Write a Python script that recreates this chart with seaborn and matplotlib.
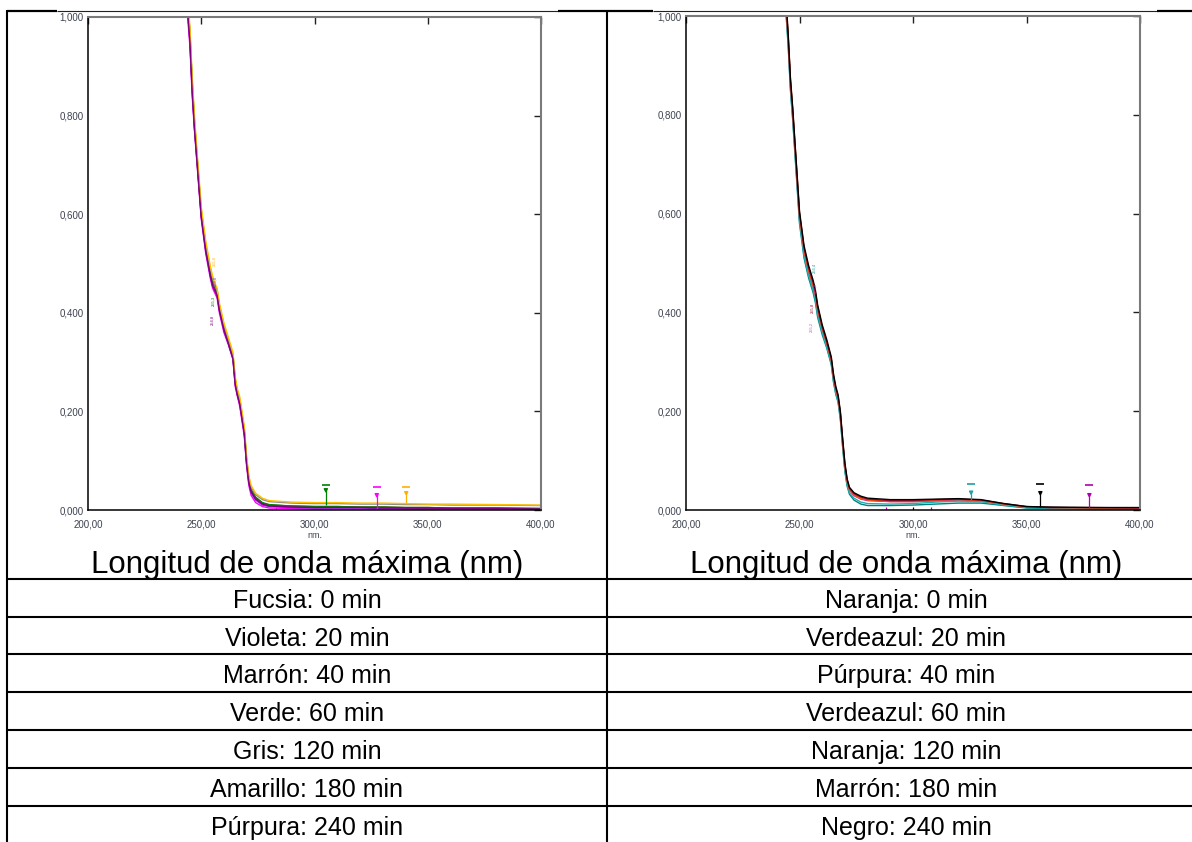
import matplotlib
matplotlib.use("Agg")
import matplotlib.pyplot as plt
from matplotlib.lines import Line2D
from matplotlib.ticker import FuncFormatter, FixedLocator
import pandas as pd
import seaborn as sns

sns.set_style("white")
plt.rcParams["font.family"] = ["Liberation Sans", "DejaVu Sans"]
plt.rcParams["text.color"] = "black"

# ---------------------------------------------------------------- data
wavelength = [244, 245, 246, 247, 248, 250, 252, 254, 255, 256, 257, 258,
              260, 262, 264, 265, 266, 267, 268, 269, 270, 271, 272, 274,
              277, 280, 290, 300, 310, 320, 330, 340, 350, 360, 380, 400]

# first sample set (left spectrum)
fucsia_0 = [1.00, 0.94, 0.84, 0.77, 0.71, 0.59, 0.52, 0.47, 0.45, 0.44, 0.43, 0.40,
            0.36, 0.335, 0.305, 0.25, 0.23, 0.21, 0.18, 0.15, 0.09, 0.05, 0.030, 0.015,
            0.007, 0.004, 0.003, 0.002, 0.002, 0.002, 0.002, 0.002, 0.001, 0.001, 0.001, 0.001]
violeta_20 = [1.01, 0.95, 0.85, 0.775, 0.715, 0.595, 0.525, 0.475, 0.455, 0.445, 0.435, 0.405,
              0.365, 0.337, 0.307, 0.255, 0.232, 0.215, 0.185, 0.155, 0.095, 0.055, 0.035, 0.020,
              0.010, 0.007, 0.005, 0.004, 0.004, 0.004, 0.003, 0.003, 0.003, 0.003, 0.002, 0.002]
marron_40 = [1.02, 0.96, 0.86, 0.78, 0.72, 0.60, 0.53, 0.48, 0.46, 0.45, 0.44, 0.41,
             0.37, 0.34, 0.31, 0.26, 0.235, 0.22, 0.19, 0.16, 0.10, 0.06, 0.040, 0.025,
             0.014, 0.010, 0.008, 0.007, 0.007, 0.006, 0.006, 0.005, 0.005, 0.004, 0.004, 0.003]
verde_60 = [1.03, 0.97, 0.87, 0.79, 0.725, 0.605, 0.535, 0.485, 0.465, 0.455, 0.445, 0.415,
            0.375, 0.343, 0.313, 0.265, 0.238, 0.222, 0.193, 0.163, 0.103, 0.062, 0.042, 0.026,
            0.015, 0.011, 0.008, 0.007, 0.007, 0.006, 0.006, 0.005, 0.005, 0.004, 0.004, 0.003]
gris_120 = [1.03, 0.97, 0.87, 0.79, 0.73, 0.61, 0.54, 0.49, 0.47, 0.455, 0.445, 0.415,
            0.375, 0.345, 0.315, 0.265, 0.240, 0.225, 0.195, 0.165, 0.105, 0.066, 0.046, 0.031,
            0.021, 0.017, 0.014, 0.013, 0.013, 0.012, 0.012, 0.011, 0.011, 0.010, 0.010, 0.009]
amarillo_180 = [1.04, 0.98, 0.88, 0.80, 0.735, 0.615, 0.545, 0.495, 0.475, 0.46, 0.45, 0.42,
                0.38, 0.35, 0.32, 0.27, 0.245, 0.23, 0.20, 0.17, 0.11, 0.07, 0.050, 0.034,
                0.024, 0.019, 0.016, 0.015, 0.015, 0.014, 0.014, 0.013, 0.012, 0.012, 0.011, 0.010]
purpura_240 = [1.01, 0.95, 0.85, 0.775, 0.715, 0.595, 0.525, 0.475, 0.455, 0.445, 0.435, 0.405,
               0.365, 0.337, 0.307, 0.255, 0.232, 0.215, 0.185, 0.155, 0.095, 0.056, 0.037, 0.022,
               0.012, 0.008, 0.006, 0.005, 0.005, 0.005, 0.004, 0.004, 0.004, 0.003, 0.003, 0.002]

# second sample set (right spectrum)
naranja_0 = [1.03, 0.96, 0.87, 0.81, 0.74, 0.60, 0.53, 0.49, 0.475, 0.46, 0.44, 0.41,
             0.37, 0.34, 0.305, 0.27, 0.245, 0.228, 0.195, 0.14, 0.09, 0.058, 0.042, 0.031,
             0.024, 0.020, 0.017, 0.017, 0.018, 0.019, 0.018, 0.012, 0.006, 0.004, 0.004, 0.003]
verdeazul_20 = [1.01, 0.94, 0.85, 0.79, 0.72, 0.58, 0.51, 0.47, 0.455, 0.44, 0.42, 0.39,
                0.355, 0.328, 0.294, 0.258, 0.234, 0.218, 0.183, 0.128, 0.078, 0.048, 0.032, 0.020,
                0.012, 0.009, 0.009, 0.010, 0.012, 0.014, 0.014, 0.009, 0.004, 0.003, 0.002, 0.002]
purpura_40 = [1.02, 0.95, 0.86, 0.80, 0.73, 0.59, 0.52, 0.48, 0.465, 0.45, 0.43, 0.40,
              0.365, 0.335, 0.30, 0.265, 0.24, 0.225, 0.19, 0.135, 0.085, 0.055, 0.040, 0.029,
              0.022, 0.019, 0.017, 0.017, 0.019, 0.020, 0.019, 0.012, 0.006, 0.005, 0.004, 0.004]
verdeazul_60 = [1.01, 0.945, 0.855, 0.795, 0.725, 0.585, 0.515, 0.475, 0.46, 0.445, 0.425, 0.395,
                0.36, 0.33, 0.297, 0.26, 0.236, 0.22, 0.186, 0.13, 0.08, 0.05, 0.035, 0.024,
                0.016, 0.013, 0.012, 0.013, 0.016, 0.018, 0.017, 0.010, 0.005, 0.004, 0.003, 0.003]
naranja_120 = [1.02, 0.955, 0.865, 0.805, 0.735, 0.595, 0.525, 0.485, 0.47, 0.455, 0.435, 0.405,
               0.368, 0.338, 0.303, 0.268, 0.243, 0.227, 0.193, 0.138, 0.088, 0.057, 0.041, 0.030,
               0.023, 0.020, 0.018, 0.018, 0.020, 0.021, 0.019, 0.012, 0.006, 0.005, 0.004, 0.004]
marron_180 = [1.03, 0.96, 0.87, 0.81, 0.74, 0.60, 0.53, 0.49, 0.475, 0.46, 0.44, 0.41,
              0.37, 0.34, 0.306, 0.27, 0.246, 0.23, 0.196, 0.142, 0.092, 0.06, 0.044, 0.033,
              0.026, 0.022, 0.019, 0.019, 0.021, 0.022, 0.020, 0.013, 0.007, 0.005, 0.005, 0.004]
negro_240 = [1.04, 0.965, 0.875, 0.815, 0.745, 0.605, 0.535, 0.495, 0.48, 0.465, 0.445, 0.415,
             0.375, 0.345, 0.31, 0.275, 0.25, 0.233, 0.20, 0.145, 0.095, 0.063, 0.046, 0.035,
             0.028, 0.024, 0.021, 0.021, 0.022, 0.023, 0.021, 0.013, 0.007, 0.006, 0.005, 0.005]

left_names = ["Fucsia: 0 min", "Violeta: 20 min", "Marrón: 40 min", "Verde: 60 min",
              "Gris: 120 min", "Amarillo: 180 min", "Púrpura: 240 min"]
left_series = [fucsia_0, violeta_20, marron_40, verde_60, gris_120, amarillo_180, purpura_240]
left_colors = ["#FF00FF", "#8A2BE2", "#8B1A1A", "#008000", "#8C8C8C", "#FFC000", "#800080"]

right_names = ["Naranja: 0 min", "Verdeazul: 20 min", "Púrpura: 40 min", "Verdeazul: 60 min",
               "Naranja: 120 min", "Marrón: 180 min", "Negro: 240 min"]
right_series = [naranja_0, verdeazul_20, purpura_40, verdeazul_60, naranja_120, marron_180, negro_240]
right_colors = ["#FF8000", "#008080", "#C030C0", "#20B0B0", "#FF5010", "#A0102A", "#000000"]

# peak-pick markers: wavelength, foot, tip, label height, colour
left_peak_nm = [305.0, 327.5, 340.5]
left_peak_foot = [0.010, 0.003, 0.015]
left_peak_tip = [0.040, 0.030, 0.034]
left_peak_tag = [0.050, 0.047, 0.047]
left_peak_color = ["#008000", "#FF00FF", "#FFB000"]

right_peak_nm = [325.6, 356.1, 377.7]
right_peak_foot = [0.020, 0.006, 0.004]
right_peak_tip = [0.035, 0.034, 0.030]
right_peak_tag = [0.052, 0.052, 0.050]
right_peak_color = ["#20A0A0", "#000000", "#B000B0"]

# valley markers
left_valley_nm = [283.0]
left_valley_color = ["#FF00FF"]
right_valley_nm = [288.0, 300.0, 308.0]
right_valley_color = ["#B000B0", "#000000", "#B000B0"]

# rotated wavelength tags near the 256 nm band
left_tag_nm = [255.6, 256.0, 255.3, 254.8]
left_tag_abs = [0.505, 0.465, 0.425, 0.385]
left_tag_color = ["#FFB000", "#8A2BE2", "#008000", "#800080"]
right_tag_nm = [256.4, 256.8, 255.8, 255.2]
right_tag_abs = [0.49, 0.45, 0.41, 0.37]
right_tag_color = ["#20A0A0", "#C030C0", "#A0102A", "#C060C0"]

x_ticks = [200, 250, 300, 350, 400]
y_ticks = [0.0, 0.2, 0.4, 0.6, 0.8, 1.0]

# ---------------------------------------------------------------- layout helpers
W, H = 1192, 842
fig = plt.figure(figsize=(W / 100, H / 100), dpi=100)
fig.patch.set_facecolor("white")


def fx(x):
    return x / W


def fy(y):
    return 1 - y / H


def hline(y, x0, x1, lw=1.5, color="black"):
    fig.add_artist(Line2D([fx(x0), fx(x1)], [fy(y), fy(y)], transform=fig.transFigure,
                          color=color, lw=lw, solid_capstyle="butt"))


def vline(x, y0, y1, lw=1.5, color="black"):
    fig.add_artist(Line2D([fx(x), fx(x)], [fy(y0), fy(y1)], transform=fig.transFigure,
                          color=color, lw=lw, solid_capstyle="butt"))


def comma(fmt):
    return FuncFormatter(lambda v, _: format(v, fmt).replace(".", ","))


def spectrum(ax, names, series, colors, peak_nm, peak_foot, peak_tip, peak_tag, peak_color,
             valley_nm, valley_color, tag_nm, tag_abs, tag_color):
    frames = [pd.DataFrame({"nm": wavelength, "abs": vals, "serie": name})
              for name, vals in zip(names, series)]
    df = pd.concat(frames, ignore_index=True)
    sns.lineplot(data=df, x="nm", y="abs", hue="serie", hue_order=names,
                 palette=dict(zip(names, colors)), estimator=None, sort=False,
                 linewidth=1.0, legend=False, ax=ax)
    ax.vlines(peak_nm, peak_foot, peak_tip, colors=peak_color, lw=0.9)
    ax.scatter(peak_nm, peak_tip, marker="v", s=5, c=peak_color, zorder=5)
    for x, t, c in zip(peak_nm, peak_tag, peak_color):
        ax.plot([x], [t], marker="_", ms=6, mew=1.2, color=c)
    ax.vlines(valley_nm, 0.0, 0.006, colors=valley_color, lw=0.9)
    for x, a, c in zip(tag_nm, tag_abs, tag_color):
        ax.text(x, a, format(x, ".1f").replace(".", ","), rotation=90, fontsize=3.0,
                color=c, ha="center", va="center")

    ax.set_xlim(200, 400)
    ax.set_ylim(0, 1)
    ax.xaxis.set_major_locator(FixedLocator(x_ticks))
    ax.yaxis.set_major_locator(FixedLocator(y_ticks))
    ax.xaxis.set_major_formatter(comma(".2f"))
    ax.yaxis.set_major_formatter(comma(".3f"))
    ax.set_ylabel("")
    ax.set_xlabel("nm.", fontsize=6.5, color="#3c4250", labelpad=1)
    ax.tick_params(direction="in", length=5, width=1.0, top=True, right=True,
                   labelsize=7, labelcolor="#3c4250", color="#202020")
    ax.tick_params(axis="x", pad=7)
    ax.tick_params(axis="y", pad=3)
    for side in ("left", "bottom"):
        ax.spines[side].set_color("black")
        ax.spines[side].set_linewidth(1.1)
    for side in ("top", "right"):
        ax.spines[side].set_color("#7a7a7a")
        ax.spines[side].set_linewidth(1.5)
    ax.set_facecolor("white")


ax_l = fig.add_axes([fx(88), fy(510), (541 - 88) / W, (510 - 17) / H])
spectrum(ax_l, left_names, left_series, left_colors, left_peak_nm, left_peak_foot,
         left_peak_tip, left_peak_tag, left_peak_color, left_valley_nm, left_valley_color,
         left_tag_nm, left_tag_abs, left_tag_color)

ax_r = fig.add_axes([fx(686), fy(510), (1140 - 686) / W, (510 - 16) / H])
spectrum(ax_r, right_names, right_series, right_colors, right_peak_nm, right_peak_foot,
         right_peak_tip, right_peak_tag, right_peak_color, right_valley_nm, right_valley_color,
         right_tag_nm, right_tag_abs, right_tag_color)

# ---------------------------------------------------------------- table frame
hline(10.5, 7, 57, lw=1.6)
hline(10.5, 57, 558, lw=0.8, color="#222222")
hline(10.5, 558, 653, lw=1.6)
hline(10.5, 653, 1157, lw=0.8, color="#222222")
hline(10.5, 1157, 1192, lw=1.6)
vline(7, 10, 842)
vline(607, 10, 842)

row_tops = [578.7, 616.7, 654.3, 692.3, 730.0, 768.0, 806.0]
for y in row_tops:
    hline(y, 7, 1192)

left_cx, right_cx = 307, 906
fig.text(fx(left_cx), fy(573), "Longitud de onda máxima (nm)", ha="center", va="baseline",
         fontsize=22.5, color="black")
fig.text(fx(right_cx), fy(573), "Longitud de onda máxima (nm)", ha="center", va="baseline",
         fontsize=22.5, color="black")
for top, ln, rn in zip(row_tops, left_names, right_names):
    fig.text(fx(left_cx), fy(top + 29), ln, ha="center", va="baseline", fontsize=18,
             color="black")
    fig.text(fx(right_cx), fy(top + 29), rn, ha="center", va="baseline", fontsize=18,
             color="black")

fig.savefig("out.png", dpi=100, facecolor="white")
